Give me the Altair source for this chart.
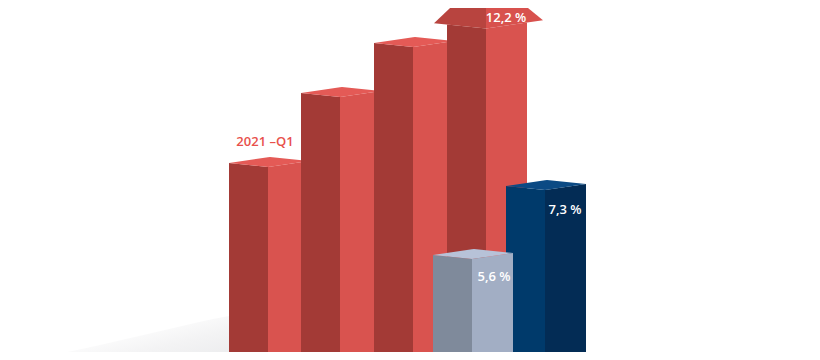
import altair as alt
import pandas as pd

# ---- values (pixel positions of the 820x360 image) ----
bar_names = ["2021-Q1", "Q2", "Q3", "Q4", "Vergleich A", "Vergleich B"]
bar_left = [229, 301, 374, 447, 433, 506]          # left edge of each column
bar_top = [163, 93, 43, 24.5, 255, 186]            # y of the column's top-left corner
bar_kind = ["red", "red", "red", "arrow", "gray", "blue"]
draw_order = [0, 1, 2, 3, 5, 4]                    # back to front

value_labels = ["12,2 %", "5,6 %", "7,3 %"]
value_x = [506, 494, 565]
value_y = [18, 277, 210]

period_label = ["2021 –Q1"]
period_x = [265]
period_y = [142]

shadow_x = [30, 100, 165, 229, 260]
shadow_top = [360, 345, 330, 316, 312]

# ---- style ----
palette = {
    "red": ("#a33a36", "#d9534f", "#e45a56"),
    "arrow": ("#a33a36", "#d9534f", "#e45a56"),
    "gray": ("#7f8a9b", "#a2aec4", "#b7c2d8"),
    "blue": ("#003a6b", "#032c55", "#0b4a84"),
}
head_colors = ("#b8443f", "#d8514d")
W, DW = 80, 39                 # column width, width of left face
FRONT_DY, RIGHT_DY = 4, -2     # perspective of the top face
BACK_DX, BACK_DY = 41, -6
H = 360

# the page has an 8px margin: show reference pixels 8..812 x 8..352 one-to-one
xs = alt.Scale(domain=[8, 812], nice=False, zero=False)
ys = alt.Scale(domain=[8, 352], nice=False, zero=False)


def interp(chain, x):
    for (xa, ya), (xb, yb) in zip(chain[:-1], chain[1:]):
        if xa <= x <= xb:
            if xb == xa:
                return ya
            return ya + (yb - ya) * (x - xa) / (xb - xa)
    return chain[-1][1]


def area_rows(upper, lower):
    allx = sorted(set([p[0] for p in upper] + [p[0] for p in lower]))
    rows = []
    for x in allx:
        ups = [p[1] for p in upper if p[0] == x]
        los = [p[1] for p in lower if p[0] == x]
        yu = min(ups) if ups else interp(upper, x)
        yl = max(los) if los else interp(lower, x)
        rows.append({"x": x, "y": H - yu, "y2": H - yl})
    return rows


def area_layer(rows, color):
    df = pd.DataFrame(rows)
    return alt.Chart(df).mark_area(color=color, clip=True, interpolate="linear").encode(
        x=alt.X("x:Q", scale=xs, axis=None),
        y=alt.Y("y:Q", scale=ys, axis=None),
        y2="y2:Q",
    )


layers = []

# floor shadow (soft gradient)
shadow_rows = [{"x": x, "y": H - t, "y2": -10} for x, t in zip(shadow_x, shadow_top)]
grad = alt.Gradient(
    gradient="linear",
    stops=[alt.GradientStop(color="#ffffff", offset=0),
           alt.GradientStop(color="#ffffff", offset=0.3),
           alt.GradientStop(color="#f3f3f4", offset=0.6),
           alt.GradientStop(color="#e7e8ea", offset=1)],
    x1=0, x2=0.9, y1=0.1, y2=1,
)
layers.append(alt.Chart(pd.DataFrame(shadow_rows)).mark_area(
    color=grad, clip=True, interpolate="monotone").encode(
    x=alt.X("x:Q", scale=xs, axis=None),
    y=alt.Y("y:Q", scale=ys, axis=None),
    y2="y2:Q",
))

for i in draw_order:
    x0 = bar_left[i]
    t = bar_top[i]
    kind = bar_kind[i]
    dark, light, top = palette[kind]
    xf = x0 + DW
    xr = x0 + W
    layers.append(area_layer(area_rows([(x0, t), (xf, t + FRONT_DY)],
                                       [(x0, H + 10), (xf, H + 10)]), dark))
    layers.append(area_layer(area_rows([(xf, t + FRONT_DY), (xr, t + RIGHT_DY)],
                                       [(xf, H + 10), (xr, H + 10)]), light))
    if kind == "arrow":
        lw = (x0 - 13, t - 13 * FRONT_DY / DW)
        fr = (xf, t + FRONT_DY)
        slope_r = (RIGHT_DY - FRONT_DY) / (W - DW)
        rw = (xr + 16, t + RIGHT_DY + 16 * slope_r)
        apex = (xf, -26)
        layers.append(area_layer(area_rows([lw, apex], [lw, fr]), head_colors[0]))
        layers.append(area_layer(area_rows([apex, rw], [fr, rw]), head_colors[1]))
    else:
        upper = [(x0, t), (x0 + BACK_DX, t + BACK_DY), (xr, t + RIGHT_DY)]
        lower = [(x0, t), (xf, t + FRONT_DY), (xr, t + RIGHT_DY)]
        layers.append(area_layer(area_rows(upper, lower), top))

vals = pd.DataFrame({"label": value_labels, "x": value_x, "y": [H - v for v in value_y]})
layers.append(alt.Chart(vals).mark_text(
    color="white", font="Open Sans", fontSize=13, fontWeight=600,
    align="center", baseline="middle").encode(
    x=alt.X("x:Q", scale=xs, axis=None),
    y=alt.Y("y:Q", scale=ys, axis=None),
    text="label:N",
))

per = pd.DataFrame({"label": period_label, "x": period_x, "y": [H - v for v in period_y]})
layers.append(alt.Chart(per).mark_text(
    color="#e8504b", font="Open Sans", fontSize=13, fontWeight=600,
    align="center", baseline="middle").encode(
    x=alt.X("x:Q", scale=xs, axis=None),
    y=alt.Y("y:Q", scale=ys, axis=None),
    text="label:N",
))

chart = alt.layer(*layers).properties(
    width=804, height=344, padding=0,
    autosize=alt.AutoSizeParams(type="none"),
    background="white",
).configure_view(strokeWidth=0)

chart.save("out.html", embed_options={"renderer": "svg", "actions": False})
